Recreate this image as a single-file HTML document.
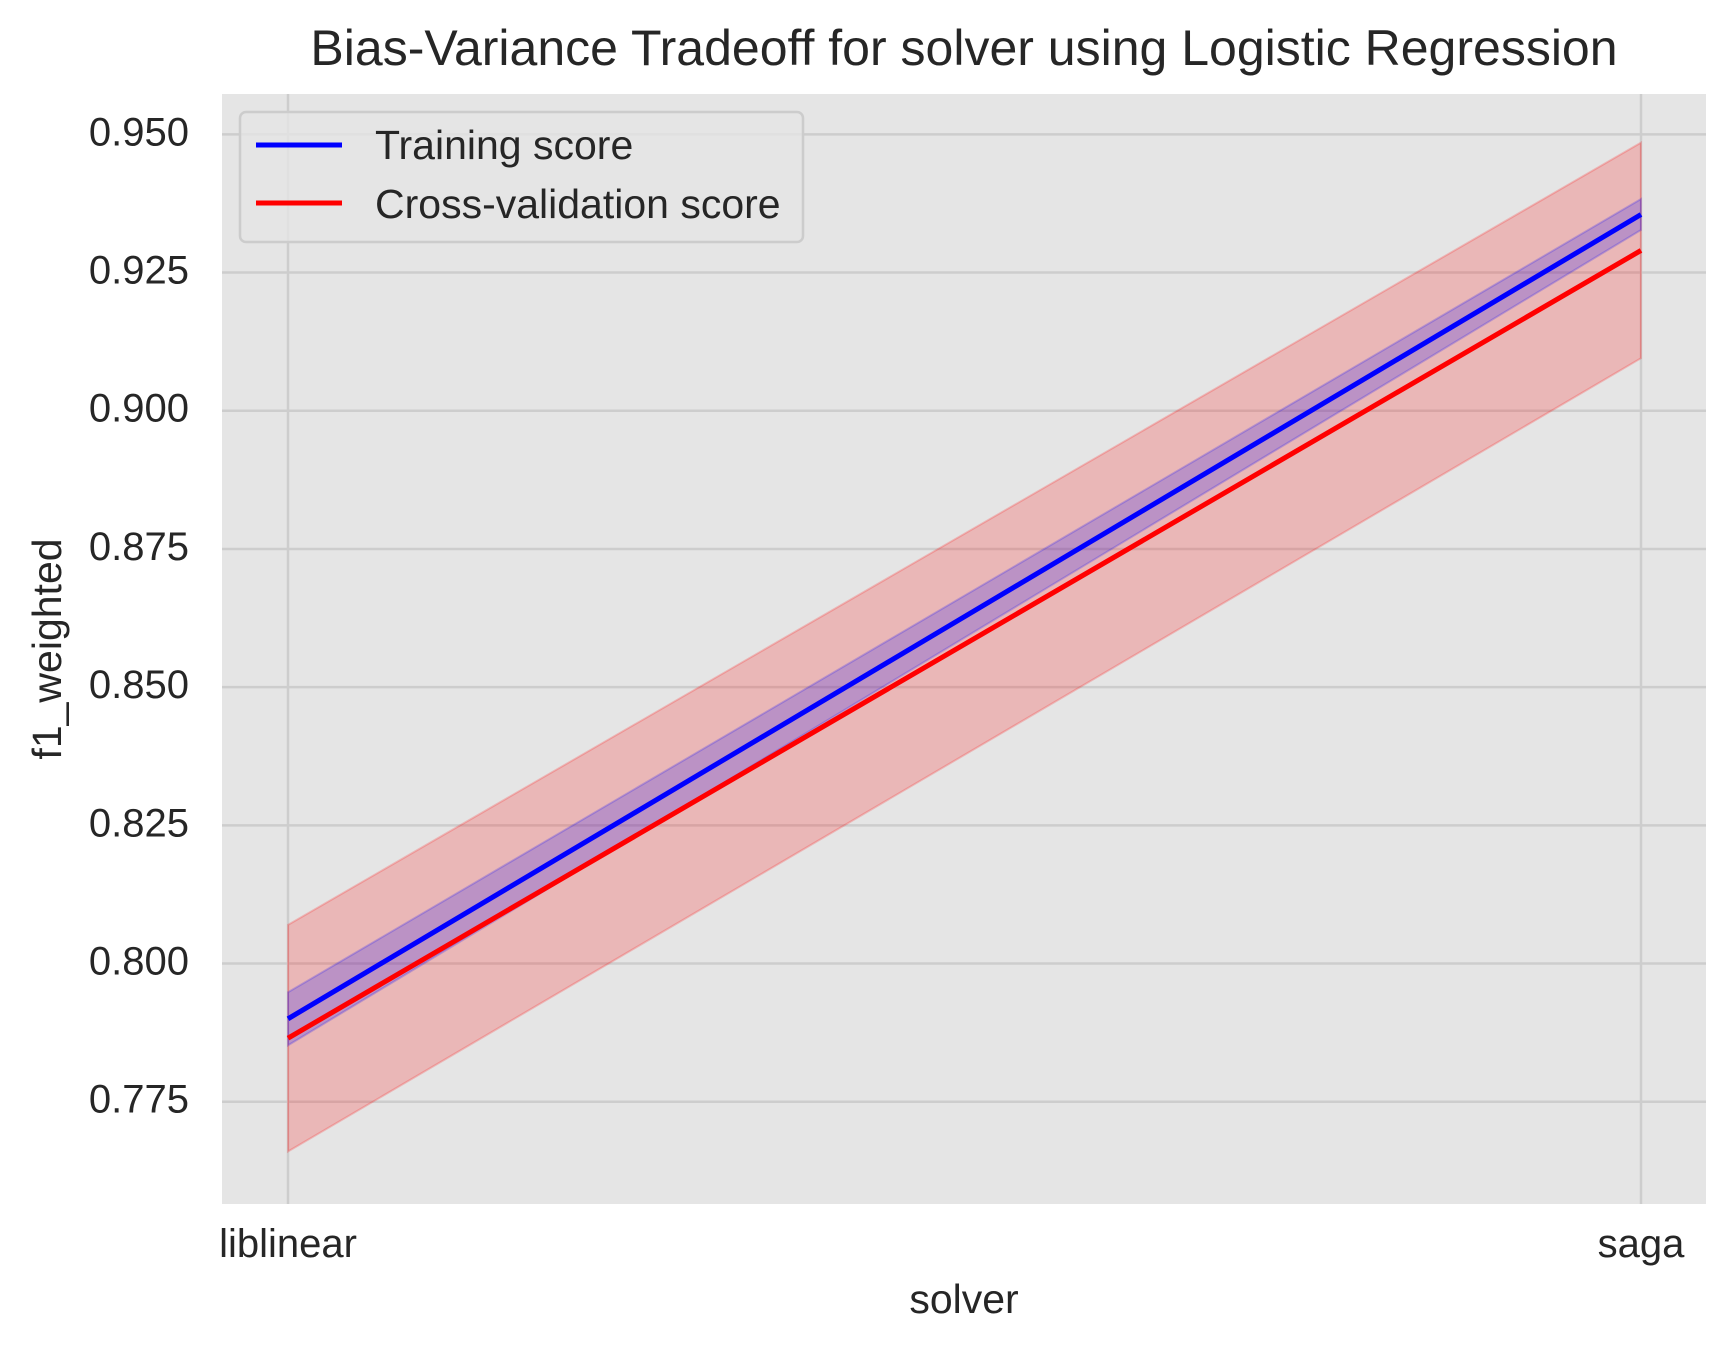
<!DOCTYPE html>
<html><head><meta charset="utf-8"><style>
body{margin:0;background:#fff;}
svg text{font-family:"Liberation Sans",sans-serif;fill:#262626;}
</style></head><body>
<svg id="chart" width="1736" height="1352" viewBox="0 0 1736 1352" xmlns="http://www.w3.org/2000/svg">
<rect x="222" y="94" width="1484" height="1110" fill="#e5e5e5"/>
<g id="grid"></g>
<g id="bands"></g>
<g id="lines"></g>
<g id="ticks"></g>
<text x="964" y="65" font-size="50" text-anchor="middle">Bias-Variance Tradeoff for solver using Logistic Regression</text>
<text x="964" y="1313" font-size="41" text-anchor="middle">solver</text>
<text transform="translate(61,649) rotate(-90)" font-size="41" text-anchor="middle">f1_weighted</text>
<g>
<rect x="240" y="112" width="563" height="130" rx="6" fill="#e5e5e5" fill-opacity="0.8" stroke="#cccccc" stroke-width="2.5"/>
<line x1="256" y1="145" x2="342" y2="145" stroke="#0000ff" stroke-width="5"/>
<text x="375" y="159" font-size="41">Training score</text>
<line x1="256" y1="203" x2="342" y2="203" stroke="#ff0000" stroke-width="5"/>
<text x="375" y="218" font-size="41">Cross-validation score</text>
</g>
</svg>
<script>
const categories = ["liblinear", "saga"];
const trainMean = [0.790, 0.9355];
const trainStd = [0.0048, 0.0028];
const cvMean = [0.7865, 0.929];
const cvStd = [0.0205, 0.0195];
const yTicks = [0.775, 0.800, 0.825, 0.850, 0.875, 0.900, 0.925, 0.950];
const yTickLabels = ["0.775", "0.800", "0.825", "0.850", "0.875", "0.900", "0.925", "0.950"];

const NS = "http://www.w3.org/2000/svg";
const L = 222, R = 1706, T = 94, B = 1204;
const yMin = 0.7565, yMax = 0.9573;
const x = i => 288 + i * (1641 - 288) / (categories.length - 1);
const y = v => B - (v - yMin) / (yMax - yMin) * (B - T);
function mk(tag, attrs, parent) {
  const e = document.createElementNS(NS, tag);
  for (const k in attrs) e.setAttribute(k, attrs[k]);
  document.getElementById(parent).appendChild(e);
  return e;
}
yTicks.forEach((v, i) => {
  const g = mk("line", {x1: L, x2: R, y1: y(v), y2: y(v), stroke: "#cdcdcd", "stroke-width": 2.5}, "grid");
  
  
  const t = mk("text", {x: 189, y: y(v) + 11, "font-size": 40, "text-anchor": "end"}, "ticks");
  t.textContent = yTickLabels[i];
  
  
});
categories.forEach((c, i) => {
  const g = mk("line", {x1: x(i), x2: x(i), y1: T, y2: B, stroke: "#cdcdcd", "stroke-width": 2.5}, "grid");
  
  
  const t = mk("text", {x: x(i), y: 1257, "font-size": 40, "text-anchor": "middle"}, "ticks");
  t.textContent = c;
  
  
});
function band(mean, std, color, name) {
  let up = mean.map((m, i) => x(i) + "," + y(m + std[i]));
  let lo = mean.map((m, i) => x(i) + "," + y(m - std[i])).reverse();
  const p = mk("polygon", {points: up.concat(lo).join(" "), fill: color, "fill-opacity": 0.2, stroke: color, "stroke-opacity": 0.2, "stroke-width": 2}, "bands");
  
  
}
band(cvMean, cvStd, "#ff0000", "cv-std-band");
band(trainMean, trainStd, "#0000ff", "training-std-band");
function line(mean, color, name) {
  const p = mk("polyline", {points: mean.map((m, i) => x(i) + "," + y(m)).join(" "), fill: "none", stroke: color, "stroke-width": 5}, "lines");
  
  
}
line(trainMean, "#0000ff", "training-score-line");
line(cvMean, "#ff0000", "cv-score-line");
</script>
</body></html>
